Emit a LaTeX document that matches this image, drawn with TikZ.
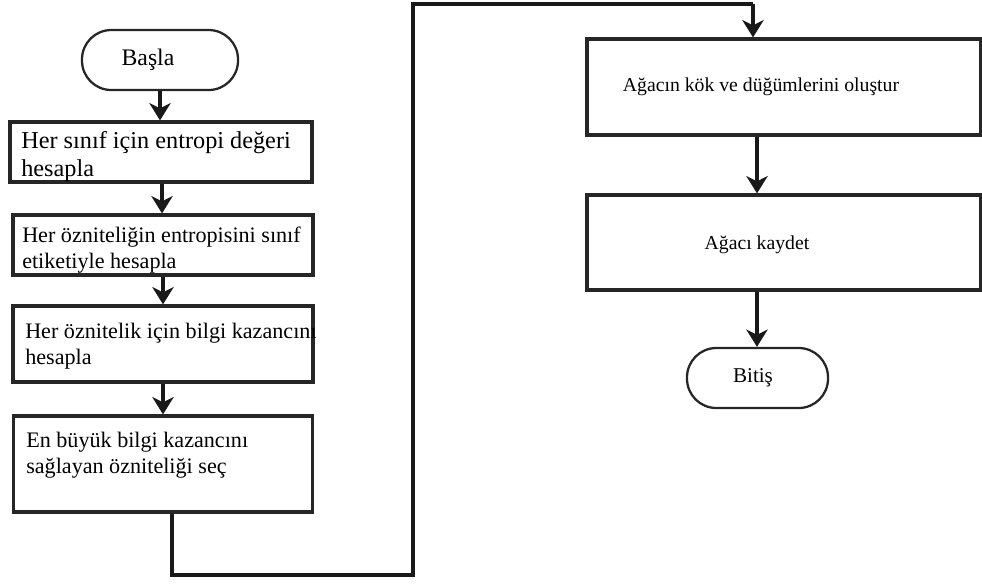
\documentclass[tikz,border=0pt]{standalone}
\usepackage{fontspec}
\setmainfont{Liberation Serif}
\usetikzlibrary{arrows.meta}
\begin{document}
\begin{tikzpicture}[x=0.75pt,y=-0.75pt,
  box/.style={draw=black!85, line width=2.4pt, rectangle, inner sep=0pt, fill=white},
  term/.style={draw=black!85, line width=1.7pt, rectangle, rounded corners=22pt, inner sep=0pt, fill=white, minimum width=#1, minimum height=45pt},
  ltext/.style={anchor=base west, inner sep=0pt, align=left, font=\fontsize{16.6}{18.8}\selectfont},
  rtext/.style={inner sep=0pt, font=\fontsize{14.8}{17}\selectfont},
  arr/.style={line width=2.3pt, draw=black!90, -{Stealth[length=13pt,width=16pt,inset=4pt]}},
  conn/.style={line width=2.4pt, draw=black!90}]
\useasboundingbox (0,0) rectangle (982,587);

% start
\node[term=117pt] (start) at (160,60) {};
\node[rtext, font=\fontsize{17.8}{20}\selectfont] (startt) at (148,60) {Başla};

% left boxes
\node[box, minimum width=226.5pt, minimum height=45pt] (b1) at (161,152) {};
\node[box, minimum width=225pt, minimum height=45pt] (b2) at (163,245) {};
\node[box, minimum width=225pt, minimum height=57pt] (b3) at (163,344) {};
\node[box, minimum width=224.5pt, minimum height=72pt] (b4) at (163,464) {};

% (base anchor = baseline of the last line)
\node[ltext, font=\fontsize{18.2}{21}\selectfont] (t1) at (21,176) {Her sınıf için entropi değeri\\hesapla};
\node[ltext] (t2) at (22,268) {Her özniteliğin entropisini sınıf\\etiketiyle hesapla};
\node[ltext, font=\fontsize{16.6}{19.5}\selectfont] (t3) at (25,364) {Her öznitelik için bilgi kazancını\\hesapla};
\node[ltext, font=\fontsize{16.6}{19}\selectfont] (t4) at (26,473) {En büyük bilgi kazancını\\sağlayan özniteliği seç};

% right boxes
\node[box, minimum width=295.5pt, minimum height=72pt] (b5) at (784,87) {};
\node[box, minimum width=295.5pt, minimum height=71.25pt] (b6) at (784,242.5) {};
\node[rtext] (t5) at (761,87) {Ağacın kök ve düğümlerini oluştur};
\node[rtext] (t6) at (757,245) {Ağacı kaydet};

% end
\node[term=105.75pt] (end) at (757.5,378) {};
\node[rtext, font=\fontsize{15.8}{18}\selectfont] (endt) at (753,378) {Bitiş};

% helper coordinates
\coordinate (xa) at (160,0);
\coordinate (xb) at (162,0);
\coordinate (xc) at (163,0);
\coordinate (xr) at (757,0);
\coordinate (c1) at (172,575);
\coordinate (c2) at (413,575);
\coordinate (c3) at (413,4);
\coordinate (c4) at (753,4);

% arrows
\draw[arr] (start.south -| xa) -- (b1.north -| xa);
\draw[arr] (b1.south -| xb) -- (b2.north -| xb);
\draw[arr] (b2.south -| xc) -- (b3.north -| xc);
\draw[arr] (b3.south -| xc) -- (b4.north -| xc);
\draw[conn] (b4.south -| c1) -- (c1) -- (c2) -- (c3) -- (c4);
\draw[arr] (c4) -- (b5.north -| c4);
\draw[arr] (b5.south -| xr) -- (b6.north -| xr);
\draw[arr] (b6.south -| xr) -- (end.north -| xr);
\end{tikzpicture}
\end{document}
